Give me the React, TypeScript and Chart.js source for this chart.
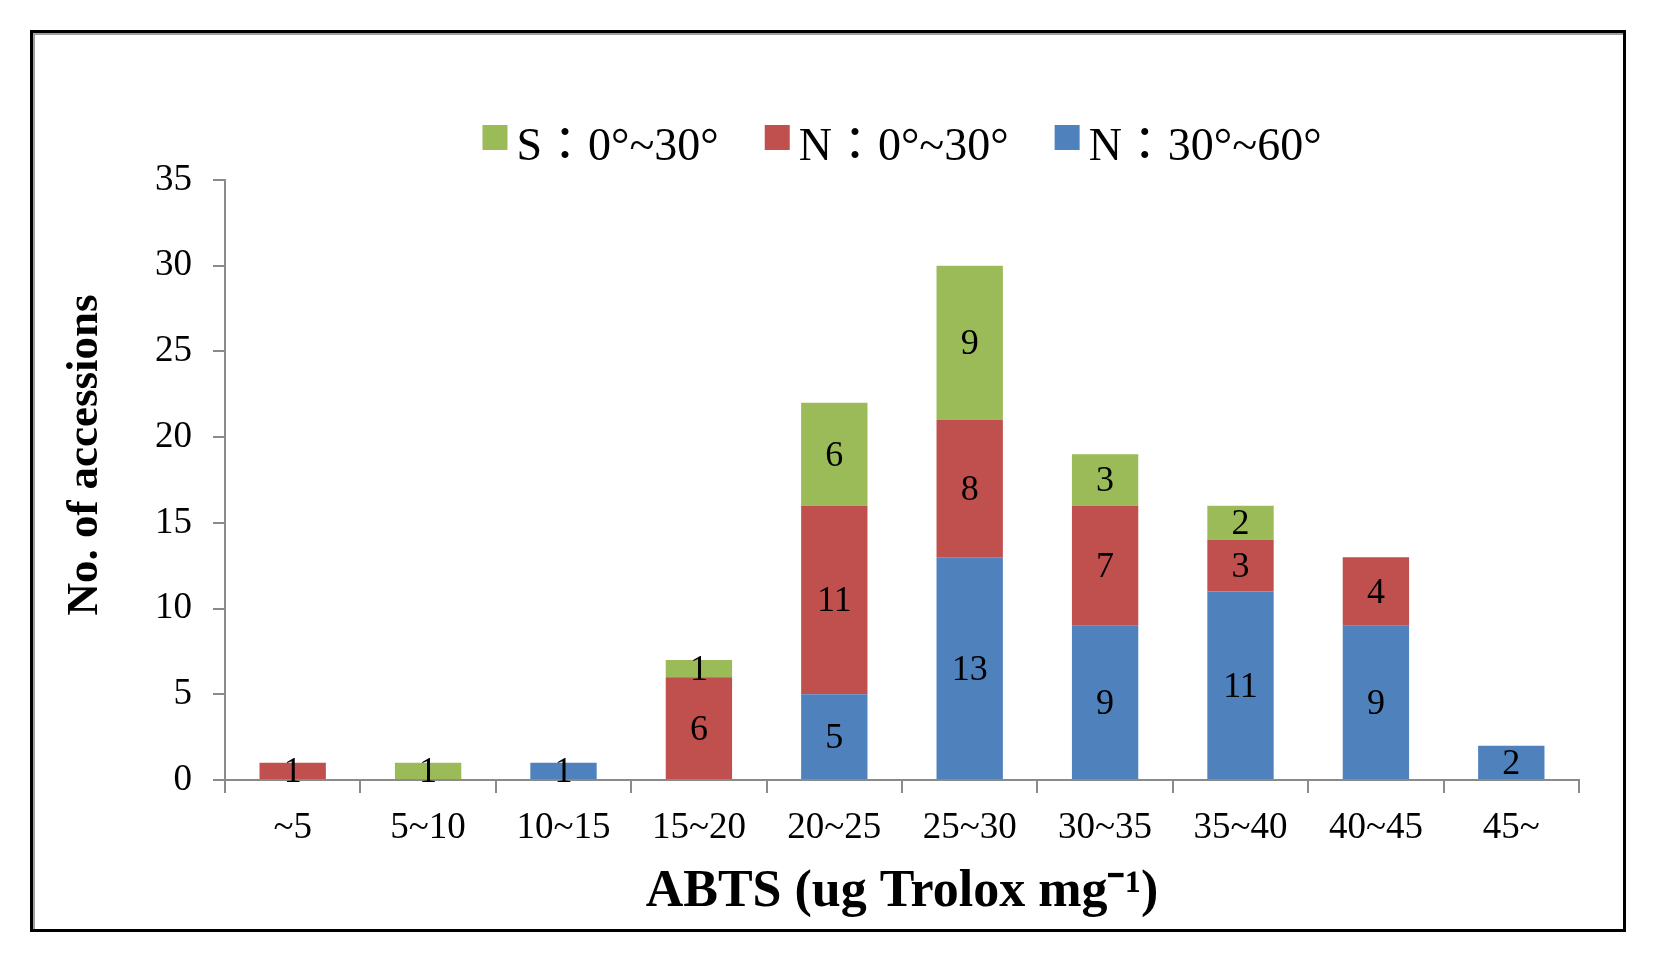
import React, { useEffect, useRef } from "react";
import { Chart, registerables } from "chart.js";

Chart.register(...registerables);

// ---- data ----
const categories = ["~5", "5~10", "10~15", "15~20", "20~25", "25~30", "30~35", "35~40", "40~45", "45~"];
const north30to60 = [0, 0, 1, 0, 5, 13, 9, 11, 9, 2];
const north0to30 = [1, 0, 0, 6, 11, 8, 7, 3, 4, 0];
const south0to30 = [0, 1, 0, 1, 6, 9, 3, 2, 0, 0];
const seriesLabels = ["N：30°~60°", "N：0°~30°", "S：0°~30°"];
const seriesColors = ["#4F81BD", "#C0504D", "#9BBB59"];
const yTickValues = [0, 5, 10, 15, 20, 25, 30, 35];
const xTitle = "ABTS (ug Trolox mg⁻¹)";
const yTitle = "No. of accessions";

const SERIF = "'Liberation Serif', 'Times New Roman', serif";
const LEGEND_FONT = "46px 'Liberation Serif', 'Noto Sans CJK TC', serif";

const framePlugin = {
  id: "frame",
  beforeDraw(chart: any) {
    const ctx = chart.ctx;
    ctx.save();
    ctx.fillStyle = "#ffffff";
    ctx.fillRect(0, 0, chart.width, chart.height);
    ctx.strokeStyle = "#000000";
    ctx.lineWidth = 3;
    ctx.strokeRect(31.5, 31.5, 1593, 899);
    ctx.strokeStyle = "#a0a0a0";
    ctx.lineWidth = 2;
    ctx.beginPath();
    ctx.moveTo(34, 33);
    ctx.lineTo(34, 929);
    ctx.moveTo(33, 34);
    ctx.lineTo(1623, 34);
    ctx.stroke();
    ctx.restore();
  },
};

const yTitlePlugin = {
  id: "yTitle",
  afterDraw(chart: any) {
    const ctx = chart.ctx;
    const area = chart.chartArea;
    ctx.save();
    ctx.font = "bold 45px " + SERIF;
    ctx.fillStyle = "#000000";
    ctx.textAlign = "center";
    ctx.textBaseline = "middle";
    ctx.translate(area.left - 140, (area.top + area.bottom) / 2 - 25);
    ctx.rotate(-Math.PI / 2);
    ctx.fillText(yTitle, 0, 0);
    ctx.restore();
  },
};

const valueLabelPlugin = {
  id: "valueLabels",
  afterDatasetsDraw(chart: any) {
    const ctx = chart.ctx;
    ctx.save();
    ctx.font = "36px " + SERIF;
    ctx.fillStyle = "#000000";
    ctx.textAlign = "center";
    ctx.textBaseline = "middle";
    chart.data.datasets.forEach((ds: any, di: number) => {
      const meta = chart.getDatasetMeta(di);
      meta.data.forEach((el: any, i: number) => {
        const v = ds.data[i];
        if (!v) return;
        const cy = (el.y + el.base) / 2;
        ctx.fillText(String(v), el.x, cy + 2);
      });
    });
    ctx.restore();
  },
};

const legendPlugin = {
  id: "customLegend",
  afterDraw(chart: any) {
    const ctx = chart.ctx;
    const area = chart.chartArea;
    ctx.save();
    ctx.font = LEGEND_FONT;
    const items = chart.data.datasets
      .map((ds: any) => ({ text: ds.label, color: ds.backgroundColor, w: ctx.measureText(ds.label).width }))
      .reverse();
    const box = 25;
    const gap = 9;
    const between = 46;
    let total = 0;
    items.forEach((it: any, i: number) => {
      total += box + gap + it.w + (i > 0 ? between : 0);
    });
    let x = (area.left + area.right) / 2 - total / 2;
    const boxTop = area.top - 55;
    const textMid = area.top - 32;
    ctx.textAlign = "left";
    ctx.textBaseline = "middle";
    items.forEach((it: any) => {
      ctx.fillStyle = it.color;
      ctx.fillRect(x, boxTop, box, box);
      ctx.fillStyle = "#000000";
      ctx.fillText(it.text, x + box + gap, textMid);
      x += box + gap + it.w + between;
    });
    ctx.restore();
  },
};

export default function App() {
  const canvasRef = useRef<HTMLCanvasElement | null>(null);

  useEffect(() => {
    if (!canvasRef.current) return;
    const chart = new Chart(canvasRef.current, {
      type: "bar",
      data: {
        labels: categories,
        datasets: [
          { label: seriesLabels[0], data: north30to60, backgroundColor: seriesColors[0] },
          { label: seriesLabels[1], data: north0to30, backgroundColor: seriesColors[1] },
          { label: seriesLabels[2], data: south0to30, backgroundColor: seriesColors[2] },
        ],
      },
      options: {
        responsive: false,
        animation: false,
        devicePixelRatio: 1,
        datasets: { bar: { categoryPercentage: 1, barPercentage: 0.49, borderWidth: 0 } },
        layout: { padding: { left: 50, right: 77, top: 180, bottom: 38 } },
        plugins: {
          legend: { display: false },
          tooltip: { enabled: false },
        },
        scales: {
          x: {
            stacked: true,
            offset: true,
            afterFit(scale: any) {
              scale.height = 144;
            },
            grid: {
              offset: true,
              drawOnChartArea: false,
              drawTicks: true,
              tickLength: 13,
              color: "#8a8a8a",
              lineWidth: 2,
            },
            border: { display: true, color: "#8a8a8a", width: 2 },
            ticks: {
              color: "#000000",
              font: { family: SERIF, size: 37 },
              padding: 13,
              maxRotation: 0,
              autoSkip: false,
            },
            title: {
              display: true,
              text: xTitle,
              color: "#000000",
              font: { family: SERIF, size: 52, weight: "bold" },
              padding: { top: 0, bottom: 0 },
            },
          },
          y: {
            stacked: true,
            min: 0,
            max: 35,
            afterFit(scale: any) {
              scale.width = 175;
            },
            afterBuildTicks(scale: any) {
              scale.ticks = yTickValues.map((v) => ({ value: v }));
            },
            grid: {
              drawOnChartArea: false,
              drawTicks: true,
              tickLength: 12,
              color: "#8a8a8a",
              lineWidth: 2,
            },
            border: { display: true, color: "#8a8a8a", width: 2 },
            ticks: {
              color: "#000000",
              font: { family: SERIF, size: 37 },
              padding: 21,
            },
            title: { display: false },
          },
        },
      } as any,
      plugins: [framePlugin, valueLabelPlugin, legendPlugin, yTitlePlugin],
    });
    return () => chart.destroy();
  }, []);

  return (
    <div style={{ position: "fixed", left: 0, top: 0, width: 1656, height: 962, background: "#fff" }}>
      <canvas ref={canvasRef} width={1656} height={962} style={{ display: "block" }} />
    </div>
  );
}
